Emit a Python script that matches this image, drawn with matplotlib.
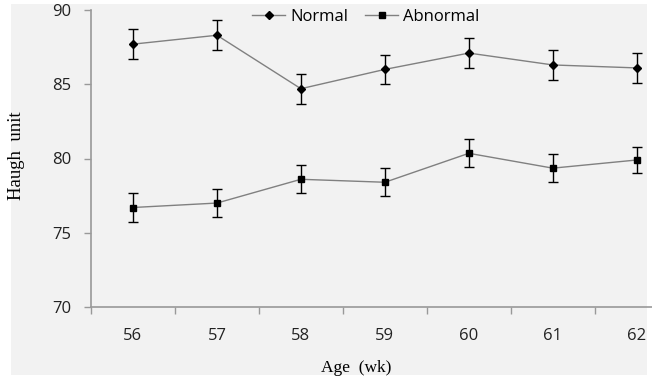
import matplotlib
matplotlib.use("Agg")
import matplotlib.pyplot as plt
from matplotlib.patches import Rectangle
from matplotlib.lines import Line2D

ages = [56, 57, 58, 59, 60, 61, 62]
normal = [87.7, 88.3, 84.7, 86.0, 87.1, 86.3, 86.1]
normal_err = [1.0, 1.0, 1.0, 1.0, 1.0, 1.0, 1.0]
abnormal = [76.7, 77.0, 78.6, 78.4, 80.35, 79.35, 79.9]
abnormal_err = [0.95, 0.95, 0.95, 0.95, 0.95, 0.95, 0.9]
yticks = [70, 75, 80, 85, 90]

W, H = 652, 379
fig = plt.figure(figsize=(W/100, H/100), dpi=100)
fig.patch.set_facecolor("white")
bg = Rectangle((11/W, 1-375/H), (647-11)/W, (375-4)/H, transform=fig.transFigure,
               facecolor="#f2f2f2", edgecolor="none", zorder=-10)
fig.patches.append(bg)

ax = fig.add_axes([91/W, 1-307/H, (W-91)/W, (307-10)/H])
ax.set_facecolor("none")

tickfont = ["Open Sans", "DejaVu Sans"]
ax.errorbar(ages, normal, yerr=normal_err, color="#808080", lw=1.0,
            marker="D", markersize=4.5, mfc="black", mec="black",
            ecolor="black", elinewidth=1.0, capsize=3.5, capthick=1.0)
ax.errorbar(ages, abnormal, yerr=abnormal_err, color="#808080", lw=1.0,
            marker="s", markersize=5, mfc="black", mec="black",
            ecolor="black", elinewidth=1.0, capsize=3.5, capthick=1.0)

x_right = 56 + (W - 134) / 83.8
ax.set_xlim(55.5, x_right)
ax.set_ylim(70, 90)
ax.set_yticks(yticks)
ax.set_xticks(ages)
ax.set_xticks([a - 0.5 for a in ages], minor=True)

for s in ["top", "right"]:
    ax.spines[s].set_visible(False)
for s in ["left", "bottom"]:
    ax.spines[s].set_color("#999999")
    ax.spines[s].set_linewidth(1.2)

ax.tick_params(axis="x", which="major", length=0, pad=15)
ax.tick_params(axis="x", which="minor", length=5, color="#999999", width=1.0)
ax.tick_params(axis="y", length=5, color="#999999", width=1.0, pad=9)
for lab in ax.get_xticklabels() + ax.get_yticklabels():
    lab.set_fontfamily(tickfont)
    lab.set_fontsize(12)
    lab.set_color("#222222")

fig.text(17/W, 1-156/H, "Haugh  unit", rotation=90, ha="center", va="center",
         family="Liberation Serif", fontsize=13.5)
fig.text(356/W, 1-368/H, "Age  (wk)", ha="center", va="center",
         family="Liberation Serif", fontsize=12.5)

handles = [
    Line2D([], [], color="#808080", lw=1.0, marker="D", markersize=4,
           mfc="black", mec="black"),
    Line2D([], [], color="#808080", lw=1.0, marker="s", markersize=4.5,
           mfc="black", mec="black"),
]
fig.legend(handles, ["Normal", "Abnormal"], loc="center",
           bbox_to_anchor=(366/W, 1-17/H), ncol=2,
           frameon=False, prop={"family": tickfont, "size": 12},
           handlelength=2.0, handletextpad=0.3, columnspacing=1.0,
           borderaxespad=0)

fig.savefig("out.png", dpi=100)
